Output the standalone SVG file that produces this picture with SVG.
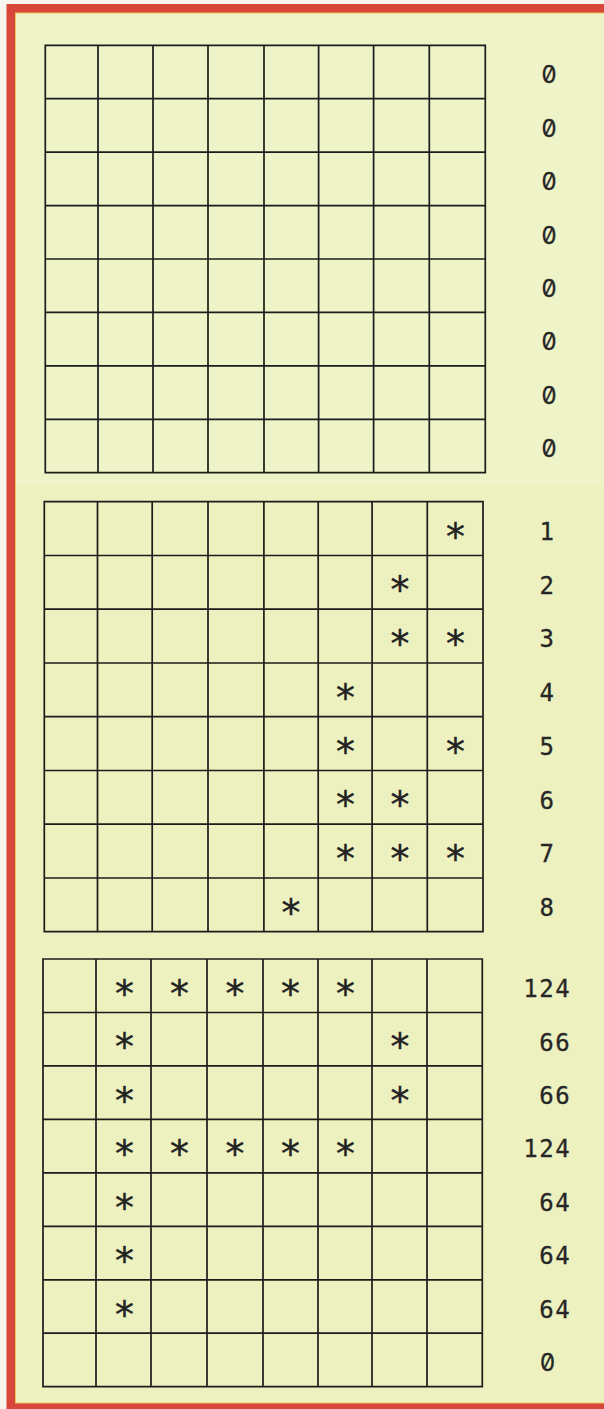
<svg xmlns="http://www.w3.org/2000/svg" width="604" height="1409" viewBox="0 0 604 1409">
<style>
.ln{fill:none;stroke:#1c1c1c;stroke-width:1.7;stroke-linecap:square}
.lb{font-family:"DejaVu Sans Mono","Liberation Mono",monospace;font-size:24px;fill:#262626;stroke:#262626;stroke-width:0.3;letter-spacing:1.6px}
.z{font-family:Inter,"DejaVu Sans Mono",monospace;font-size:24px;fill:#262626;stroke:#262626;stroke-width:0.3;text-anchor:middle;font-feature-settings:"zero" 1,"tnum" 1;font-variant-numeric:slashed-zero tabular-nums}
.st{font-family:"DejaVu Sans Mono","Liberation Mono",monospace;font-size:38px;fill:#222;stroke:#222;stroke-width:0.4;text-anchor:middle}
</style>
<rect x="0" y="0" width="604" height="1409" fill="#f7f5ee"/>
<rect x="11" y="8.5" width="600" height="1399" fill="#eef3c8" stroke="#d8473a" stroke-width="9"/>
<rect x="15.5" y="13" width="600" height="1390" fill="none" stroke="#f0c25e" stroke-width="1"/>
<rect x="16" y="485" width="588" height="917" fill="#ebf0bd" opacity="0.8"/>

<g id="grid1">
<path class="ln" d="M45.3 45.3H485.3M45.3 98.7H485.3M45.3 152.1H485.3M45.3 205.6H485.3M45.3 259H485.3M45.3 312.4H485.3M45.3 365.9H485.3M45.3 419.3H485.3M45.3 472.7H485.3M45.3 45.3V472.7M98 45.3V472.7M153 45.3V472.7M208 45.3V472.7M264 45.3V472.7M318.6 45.3V472.7M373.6 45.3V472.7M429.3 45.3V472.7M485.3 45.3V472.7"/>
<text class="z" x="549" y="83.3">0</text>
<text class="z" x="549" y="136.7">0</text>
<text class="z" x="549" y="190.2">0</text>
<text class="z" x="549" y="243.6">0</text>
<text class="z" x="549" y="297">0</text>
<text class="z" x="549" y="350.4">0</text>
<text class="z" x="549" y="403.9">0</text>
<text class="z" x="549" y="457.3">0</text>
</g>

<g id="grid2">
<path class="ln" d="M44.3 501.7H483M44.3 555.5H483M44.3 609.2H483M44.3 663H483M44.3 716.7H483M44.3 770.5H483M44.3 824.2H483M44.3 878H483M44.3 931.7H483M44.3 501.7V931.7M97.5 501.7V931.7M152.2 501.7V931.7M208 501.7V931.7M263.9 501.7V931.7M318.2 501.7V931.7M372.1 501.7V931.7M427.3 501.7V931.7M483 501.7V931.7"/>
<text class="lb" x="539.5" y="539.9">1</text>
<text class="lb" x="539.5" y="593.7">2</text>
<text class="lb" x="539.5" y="647.4">3</text>
<text class="lb" x="539.5" y="701.2">4</text>
<text class="lb" x="539.5" y="754.9">5</text>
<text class="lb" x="539.5" y="808.7">6</text>
<text class="lb" x="539.5" y="862.4">7</text>
<text class="lb" x="539.5" y="916.2">8</text>
<text class="st" x="455.5" y="549.6">*</text>
<text class="st" x="400" y="603.4">*</text>
<text class="st" x="400" y="657.1">*</text>
<text class="st" x="455.5" y="657.1">*</text>
<text class="st" x="345.5" y="710.9">*</text>
<text class="st" x="345.5" y="764.6">*</text>
<text class="st" x="455.5" y="764.6">*</text>
<text class="st" x="345.5" y="818.4">*</text>
<text class="st" x="400" y="818.4">*</text>
<text class="st" x="345.5" y="872.1">*</text>
<text class="st" x="400" y="872.1">*</text>
<text class="st" x="455.5" y="872.1">*</text>
<text class="st" x="291" y="925.9">*</text>
</g>

<g id="grid3">
<path class="ln" d="M43 959H482.3M43 1012.5H482.3M43 1065.9H482.3M43 1119.4H482.3M43 1172.8H482.3M43 1226.3H482.3M43 1279.8H482.3M43 1333.2H482.3M43 1386.7H482.3M43 959V1386.7M96 959V1386.7M151 959V1386.7M207 959V1386.7M263 959V1386.7M318 959V1386.7M372 959V1386.7M427 959V1386.7M482.3 959V1386.7"/>
<text class="lb" x="523.2" y="997">124</text>
<text class="lb" x="539.3" y="1050.5">66</text>
<text class="lb" x="539.3" y="1104">66</text>
<text class="lb" x="523.2" y="1157.4">124</text>
<text class="lb" x="539.3" y="1210.9">64</text>
<text class="lb" x="539.3" y="1264.3">64</text>
<text class="lb" x="539.3" y="1317.8">64</text>
<text class="z" x="547.5" y="1371.3">0</text>
<text class="st" x="124.5" y="1006.7">*</text>
<text class="st" x="179.5" y="1006.7">*</text>
<text class="st" x="235" y="1006.7">*</text>
<text class="st" x="290.5" y="1006.7">*</text>
<text class="st" x="345.5" y="1006.7">*</text>
<text class="st" x="124.5" y="1060.2">*</text>
<text class="st" x="400" y="1060.2">*</text>
<text class="st" x="124.5" y="1113.7">*</text>
<text class="st" x="400" y="1113.7">*</text>
<text class="st" x="124.5" y="1167.1">*</text>
<text class="st" x="179.5" y="1167.1">*</text>
<text class="st" x="235" y="1167.1">*</text>
<text class="st" x="290.5" y="1167.1">*</text>
<text class="st" x="345.5" y="1167.1">*</text>
<text class="st" x="124.5" y="1220.6">*</text>
<text class="st" x="124.5" y="1274">*</text>
<text class="st" x="124.5" y="1327.5">*</text>
</g>
</svg>
